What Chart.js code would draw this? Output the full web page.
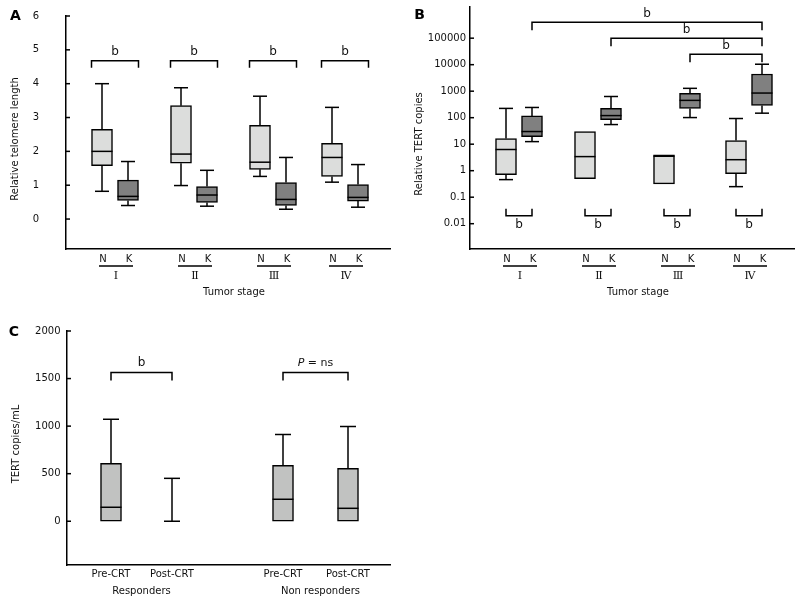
<!DOCTYPE html>
<html lang="en">
<head>
<meta charset="UTF-8">
<title>Telomere length and TERT copies</title>
<script src="https://cdn.jsdelivr.net/npm/chart.js"></script>
<style>
    body { margin: 0; background: #fff; }
    #wrap { position: relative; width: 798px; height: 602px; }
    canvas { position: absolute; }
</style>
</head>
<body>
<div id="wrap">
    <canvas id="chartA" width="400" height="300" style="left:0;top:0"></canvas>
    <canvas id="chartB" width="398" height="300" style="left:400px;top:0"></canvas>
    <canvas id="chartC" width="400" height="302" style="left:0;top:300px"></canvas>
</div>

<script>
    // categories
    const stages = ['Ⅰ', 'Ⅱ', 'Ⅲ', 'Ⅳ'];
    const tissues = ['N', 'K'];
    const crtGroups = ['Responders', 'Non responders'];
    const crtPhases = ['Pre-CRT', 'Post-CRT'];

    // A: relative telomere length, order N-I, K-I, N-II, K-II, N-III, K-III, N-IV, K-IV
    const telomereMin = [0.82, 0.40, 0.99, 0.38, 1.26, 0.29, 1.09, 0.35];
    const telomereQ1 = [1.58, 0.55, 1.65, 0.49, 1.47, 0.40, 1.26, 0.53];
    const telomereMedian = [2.00, 0.67, 1.92, 0.71, 1.68, 0.58, 1.82, 0.64];
    const telomereQ3 = [2.65, 1.15, 3.35, 0.96, 2.77, 1.08, 2.24, 1.02];
    const telomereMax = [4.00, 1.70, 3.88, 1.44, 3.63, 1.82, 3.30, 1.61];
    const telomereTicks = [0, 1, 2, 3, 4, 5, 6];

    // B: relative TERT copies, same order
    const tertMin = [0.46, 12.5, 0.50, 55, 0.32, 101, 0.25, 148];
    const tertQ1 = [0.71, 19.4, 0.50, 85, 0.32, 224, 0.77, 290];
    const tertMedian = [6.3, 30, 3.4, 120, 3.5, 450, 2.6, 850];
    const tertQ3 = [16.3, 117, 30, 224, 4.0, 830, 13.7, 4440];
    const tertMax = [224, 243, 30, 630, 4.0, 1280, 93, 10400];
    const tertTicks = [0.01, 0.1, 1, 10, 100, 1000, 10000, 100000];

    // C: TERT copies/mL, Pre/Post responders, Pre/Post non responders
    const plasmaMin = [0, 0, 0, 0];
    const plasmaQ1 = [0, 0, 0, 0];
    const plasmaMedian = [147, 0, 231, 136];
    const plasmaQ3 = [608, 0, 587, 556];
    const plasmaMax = [1072, 451, 912, 996];
    const plasmaTicks = [0, 500, 1000, 1500, 2000];

    // significance marks
    const sigStage = ['b', 'b', 'b', 'b'];
    const sigTopB = ['b', 'b', 'b'];
    const sigCrt = ['b', 'P = ns'];

    // layout (positions along the x axis)
    const stageSlots = [36, 62, 115, 141, 194, 220, 266, 292];
    const crtSlots = [44, 105, 216, 281];

    const LIGHT = '#dcdddc', DARK = '#808080', MID = '#c1c2c1';
    const FONT = '"DejaVu Sans", sans-serif';
    const panels = {};

    function line(ctx, x1, y1, x2, y2) {
        ctx.beginPath();
        ctx.moveTo(x1, y1);
        ctx.lineTo(x2, y2);
        ctx.stroke();
    }

    const boxExtras = {
        id: 'boxExtras',
        afterDatasetsDraw(chart) {
            const p = panels[chart.canvas.id];
            const ctx = chart.ctx, xs = chart.scales.x, ys = chart.scales.y;
            const area = chart.chartArea;
            ctx.save();
            ctx.strokeStyle = '#000';
            ctx.lineWidth = 1.5;
            ctx.fillStyle = '#111';

            // whiskers and medians
            p.slots.forEach((s, i) => {
                const x = xs.getPixelForValue(s);
                const hw = p.boxWidth / 2, cw = p.capWidth / 2;
                const yMin = ys.getPixelForValue(p.min[i]);
                const yQ1 = ys.getPixelForValue(p.q1[i]);
                const yMed = ys.getPixelForValue(p.median[i]);
                const yQ3 = ys.getPixelForValue(p.q3[i]);
                const yMax = ys.getPixelForValue(p.max[i]);
                const hasBox = p.q3[i] > p.q1[i];
                if (hasBox) line(ctx, x - hw, yMed, x + hw, yMed);
                if (p.max[i] > p.q3[i]) {
                    line(ctx, x, yQ3, x, yMax);
                    line(ctx, x - cw, yMax, x + cw, yMax);
                }
                if (p.min[i] < p.q1[i] || !hasBox) {
                    line(ctx, x, yQ1, x, yMin);
                    line(ctx, x - cw, yMin, x + cw, yMin);
                }
            });

            // y ticks, inward marks
            ctx.font = '10px ' + FONT;
            ctx.textAlign = 'right';
            ctx.textBaseline = 'middle';
            ys.ticks.forEach(t => {
                const y = ys.getPixelForValue(t.value);
                line(ctx, area.left, y, area.left + 4, y);
                ctx.fillText(String(t.value), area.left - p.labelGap, y);
            });

            // brackets
            p.brackets.forEach(b => {
                let x1 = xs.getPixelForValue(p.slots[b.a]);
                let x2 = xs.getPixelForValue(p.slots[b.b]);
                if (b.edges) { x1 -= p.boxWidth / 2; x2 += p.boxWidth / 2; }
                const y = ys.getPixelForValue(b.y);
                ctx.beginPath();
                ctx.moveTo(x1, y + b.leg);
                ctx.lineTo(x1, y);
                ctx.lineTo(x2, y);
                ctx.lineTo(x2, y + b.leg);
                ctx.stroke();
                const tx = (x1 + x2) / 2, ty = y + b.textDy;
                ctx.textAlign = 'center';
                if (b.text.startsWith('P')) {
                    ctx.font = 'italic 11px ' + FONT;
                    const w1 = ctx.measureText('P').width;
                    ctx.font = '11px ' + FONT;
                    const rest = ' = ns';
                    const w2 = ctx.measureText(rest).width;
                    const start = tx - (w1 + w2) / 2;
                    ctx.textAlign = 'left';
                    ctx.font = 'italic 11px ' + FONT;
                    ctx.fillText('P', start, ty);
                    ctx.font = '11px ' + FONT;
                    ctx.fillText(rest, start + w1, ty);
                } else {
                    ctx.font = '12px ' + FONT;
                    ctx.fillText(b.text, tx, ty);
                }
            });

            // x labels
            ctx.textAlign = 'center';
            ctx.font = '10px ' + FONT;
            p.xLabels(ctx, xs, area);

            // axis title and panel letter
            ctx.save();
            ctx.translate(p.yTitle[1], p.yTitle[2]);
            ctx.rotate(-Math.PI / 2);
            ctx.font = '10px ' + FONT;
            ctx.textAlign = 'center';
            ctx.fillText(p.yTitle[0], 0, 0);
            ctx.restore();
            ctx.font = 'bold 14px ' + FONT;
            ctx.fillStyle = '#000';
            ctx.textAlign = 'center';
            ctx.fillText(p.letter[0], p.letter[1], p.letter[2]);
            ctx.restore();
        }
    };

    function stageLabels(ctx, xs, area) {
        stages.forEach((st, g) => {
            const xN = xs.getPixelForValue(stageSlots[2 * g]) + 1;
            const xK = xs.getPixelForValue(stageSlots[2 * g + 1]) + 1;
            ctx.font = '10px ' + FONT;
            ctx.fillText(tissues[0], xN, area.bottom + 10);
            ctx.fillText(tissues[1], xK, area.bottom + 10);
            line(ctx, xN - 4, area.bottom + 17, xK + 4, area.bottom + 17);
            ctx.font = '11px "DejaVu Serif", "Liberation Serif", serif';
            ctx.fillText(st, (xN + xK) / 2, area.bottom + 27);
        });
        ctx.font = '10px ' + FONT;
        ctx.fillText('Tumor stage', area.left + 168, area.bottom + 43);
    }

    function crtLabels(ctx, xs, area) {
        crtGroups.forEach((grp, g) => {
            const x1 = xs.getPixelForValue(crtSlots[2 * g]);
            const x2 = xs.getPixelForValue(crtSlots[2 * g + 1]);
            ctx.fillText(crtPhases[0], x1, area.bottom + 9);
            ctx.fillText(crtPhases[1], x2, area.bottom + 9);
            ctx.fillText(grp, (x1 + x2) / 2 + 5 * g, area.bottom + 26);
        });
    }

    function boxChart(id, opt) {
        panels[id] = opt;
        return new Chart(document.getElementById(id), {
            type: 'bar',
            data: {
                datasets: [{
                    data: opt.slots.map((s, i) => ({ x: s, y: opt.q3[i] > opt.q1[i] ? [opt.q1[i], opt.q3[i]] : null })),
                    backgroundColor: opt.fills,
                    borderColor: '#000',
                    borderWidth: 1.5,
                    borderSkipped: false,
                    barThickness: opt.boxWidth
                }]
            },
            options: {
                responsive: false,
                animation: false,
                events: [],
                layout: { padding: opt.padding },
                plugins: {
                    legend: { display: false },
                    tooltip: { enabled: false }
                },
                scales: {
                    x: {
                        type: 'linear', min: 0, max: opt.xMax, offset: false,
                        grid: { display: false, drawTicks: false, offset: false },
                        ticks: { display: false },
                        border: { display: true, color: '#000', width: 1.5 }
                    },
                    y: {
                        type: opt.yType, min: opt.yMin, max: opt.yMax,
                        grid: { display: false, drawTicks: false },
                        ticks: { display: false },
                        border: { display: true, color: '#000', width: 1.5 },
                        afterBuildTicks: sc => { sc.ticks = opt.ticks.map(v => ({ value: v })); },
                        afterFit: sc => { sc.width = opt.axisLeft; }
                    }
                }
            },
            plugins: [boxExtras]
        });
    }

    const stageFills = stageSlots.map((_, i) => i % 2 === 0 ? LIGHT : DARK);

    boxChart('chartA', {
        slots: stageSlots, xMax: 324, boxWidth: 21, capWidth: 14, fills: stageFills,
        min: telomereMin, q1: telomereQ1, median: telomereMedian, q3: telomereQ3, max: telomereMax,
        yType: 'linear', yMin: -0.885, yMax: 6, ticks: telomereTicks,
        axisLeft: 66, padding: { left: 0, top: 16, right: 10, bottom: 51 }, labelGap: 27,
        brackets: sigStage.map((t, g) => ({ a: 2 * g, b: 2 * g + 1, y: 4.68, leg: 7, text: t, textDy: -9, edges: true })),
        xLabels: stageLabels,
        yTitle: ['Relative telomere length', 15, 139],
        letter: ['A', 15.5, 16]
    });

    boxChart('chartB', {
        slots: stageSlots, xMax: 324, boxWidth: 21, capWidth: 14, fills: stageFills,
        min: tertMin, q1: tertQ1, median: tertMedian, q3: tertQ3, max: tertMax,
        yType: 'logarithmic', yMin: 0.00111, yMax: 1.5e6, ticks: tertTicks,
        axisLeft: 70, padding: { left: 0, top: 7, right: 4, bottom: 51 }, labelGap: 4,
        brackets: [
            { a: 1, b: 7, y: 4e5, leg: 8, text: sigTopB[0], textDy: -8 },
            { a: 3, b: 7, y: 1e5, leg: 8, text: sigTopB[1], textDy: -8 },
            { a: 5, b: 7, y: 2.5e4, leg: 8, text: sigTopB[2], textDy: -8 }
        ].concat(sigStage.map((t, g) => ({ a: 2 * g, b: 2 * g + 1, y: 0.02, leg: -7, text: t, textDy: 9 }))),
        xLabels: stageLabels,
        yTitle: ['Relative TERT copies', 19.5, 144],
        letter: ['B', 19.7, 15.5]
    });

    boxChart('chartC', {
        slots: crtSlots, xMax: 323, boxWidth: 21, capWidth: 16, fills: crtSlots.map(() => MID),
        min: plasmaMin, q1: plasmaQ1, median: plasmaMedian, q3: plasmaQ3, max: plasmaMax,
        yType: 'linear', yMin: -460, yMax: 2000, ticks: plasmaTicks,
        axisLeft: 67, padding: { left: 0, top: 31, right: 10, bottom: 37 }, labelGap: 6.5,
        brackets: sigCrt.map((t, g) => ({ a: 2 * g, b: 2 * g + 1, y: 1563, leg: 8, text: t, textDy: -9.5 })),
        xLabels: crtLabels,
        yTitle: ['TERT copies/mL', 16, 144],
        letter: ['C', 13.8, 32.7]
    });
</script>
</body>
</html>
